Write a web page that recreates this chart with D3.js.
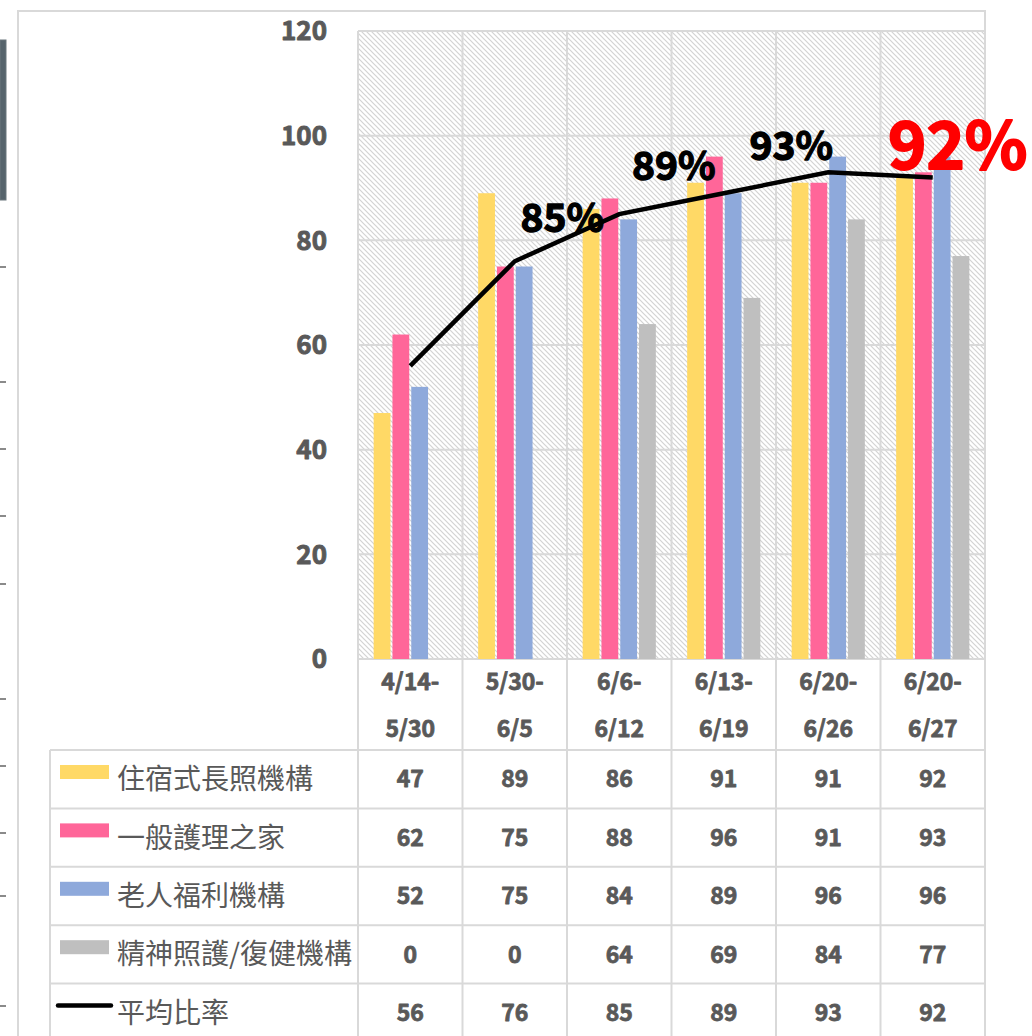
<!DOCTYPE html>
<html>
<head>
<meta charset="utf-8">
<script src="https://cdn.jsdelivr.net/npm/d3@7"></script>
<style>
  html, body { margin: 0; padding: 0; background: #fff; }
  svg { display: block; font-family: "Noto Sans CJK TC", "Noto Sans", sans-serif; }
</style>
</head>
<body>
<svg id="chart" width="1032" height="1036"></svg>
<script>
// data
const periods = [['4/14-', '5/30'], ['5/30-', '6/5'], ['6/6-', '6/12'], ['6/13-', '6/19'], ['6/20-', '6/26'], ['6/20-', '6/27']];
const seriesNames = ['住宿式長照機構', '一般護理之家', '老人福利機構', '精神照護/復健機構'];
const residential = [47, 89, 86, 91, 91, 92];
const nursingHome = [62, 75, 88, 96, 91, 93];
const elderlyWelfare = [52, 75, 84, 89, 96, 96];
const mentalCare = [0, 0, 64, 69, 84, 77];
const average = [56, 76, 85, 89, 93, 92];
const averageName = '平均比率';
const yTicks = [0, 20, 40, 60, 80, 100, 120];
const labelled = [2, 3, 4, 5]; // periods with a % annotation

const colours = ['#FFD966', '#FF6699', '#8EA9DB', '#BFBFBF'];
const grid = '#d9d9d9';
const textGrey = '#595959';

const svg = d3.select('#chart');
const W = 1032, H = 1036;
const plot = { left: 358, right: 985, top: 31, bottom: 659 };
const catRowBottom = 750;
const rowH = 58.4;
const tableLeft = 50;

// bold text, thickened a little with a same-colour stroke
const heavyText = (sel, colour, sw) => sel
  .attr('font-weight', 700)
  .attr('fill', colour)
  .attr('stroke', colour)
  .attr('stroke-width', sw)
  .attr('stroke-linejoin', 'round');

const catKeys = periods.map((p, i) => i);
const x0 = d3.scaleBand().domain(catKeys).range([plot.left, plot.right]);
const x1 = d3.scaleBand().domain(d3.range(seriesNames.length))
  .range([0, x0.bandwidth()]).paddingOuter(0.78);
const y = d3.scaleLinear().domain([0, 120]).range([plot.bottom, plot.top]);

// hatch pattern for plot background
const defs = svg.append('defs');
const pat = defs.append('pattern')
  .attr('id', 'hatch').attr('patternUnits', 'userSpaceOnUse')
  .attr('width', 5).attr('height', 5);
pat.append('rect').attr('width', 5).attr('height', 5).attr('fill', '#fff');
pat.append('path').attr('d', 'M-1,-1 L6,6 M-1,4 L1,6 M4,-1 L6,1')
  .attr('stroke', '#d3d3d3').attr('stroke-width', 1.2);

// stray bits of the neighbouring slide on the left edge
svg.append('rect').attr('x', 0).attr('y', 40).attr('width', 6).attr('height', 160)
  .attr('fill', '#56646c').attr('stroke', '#6b767d').attr('stroke-width', 1);
[267, 382, 449, 516, 584, 699, 766, 833, 896, 1006].forEach(ty => {
  svg.append('rect').attr('x', 0).attr('y', ty - 1).attr('width', 6).attr('height', 2).attr('fill', '#8a8a8a');
});

// outer frame
svg.append('path')
  .attr('d', `M18,${H + 2} L18,11 L${plot.right},11 L${plot.right},${H + 2}`)
  .attr('fill', 'none').attr('stroke', grid).attr('stroke-width', 2);

// plot background
svg.append('rect')
  .attr('x', plot.left).attr('y', plot.top)
  .attr('width', plot.right - plot.left).attr('height', plot.bottom - plot.top)
  .attr('fill', 'url(#hatch)');

// horizontal gridlines
svg.append('g').selectAll('line').data(yTicks).join('line')
  .attr('x1', plot.left).attr('x2', plot.right)
  .attr('y1', d => y(d)).attr('y2', d => y(d))
  .attr('stroke', grid).attr('stroke-width', 2);

// vertical lines: through plot and table
const colEdges = catKeys.map(k => x0(k)).concat([plot.right]);
svg.append('g').selectAll('line').data(colEdges).join('line')
  .attr('x1', d => d).attr('x2', d => d)
  .attr('y1', plot.top).attr('y2', H + 2)
  .attr('stroke', grid).attr('stroke-width', 2);

// y axis labels
svg.append('g').selectAll('text').data(yTicks).join('text')
  .attr('x', 327).attr('y', d => y(d))
  .attr('dy', '0.36em')
  .attr('text-anchor', 'end')
  .attr('font-size', 26)
  .call(heavyText, textGrey, 0.9)
  .text(d => d);

// bars
const seriesValues = [residential, nursingHome, elderlyWelfare, mentalCare];
const barG = svg.append('g');
seriesValues.forEach((vals, s) => {
  barG.selectAll(null).data(vals).join('rect')
    .attr('x', (d, i) => x0(i) + x1(s) + 1)
    .attr('width', x1.bandwidth() - 2)
    .attr('y', d => y(d))
    .attr('height', d => y(0) - y(d))
    .attr('fill', colours[s]);
});

// average line
const line = d3.line()
  .x((d, i) => x0(i) + x0.bandwidth() / 2)
  .y(d => y(d));
svg.append('path').datum(average)
  .attr('d', line)
  .attr('fill', 'none').attr('stroke', '#000').attr('stroke-width', 4.5);

// percentage annotations (offsets relative to the line point)
const labelOffsets = { 2: [-57, 18], 3: [-50, -13], 4: [-37, -12], 5: [25, -9] };
svg.append('g').selectAll('text').data(labelled).join('text')
  .attr('x', i => x0(i) + x0.bandwidth() / 2 + labelOffsets[i][0])
  .attr('y', i => y(average[i]) + labelOffsets[i][1])
  .attr('text-anchor', 'middle')
  .attr('font-size', i => i === 5 ? 65 : 39)
  .each(function (i) {
    d3.select(this).call(heavyText, i === 5 ? '#ff0000' : '#000', i === 5 ? 2 : 1.3);
  })
  .text(i => average[i] + '%');

// category labels (two lines)
const catG = svg.append('g').selectAll('g').data(periods).join('g');
catG.append('text')
  .attr('x', (d, i) => x0(i) + x0.bandwidth() / 2).attr('y', 690)
  .attr('text-anchor', 'middle').attr('font-size', 23)
  .call(heavyText, textGrey, 0.8)
  .text(d => d[0]);
catG.append('text')
  .attr('x', (d, i) => x0(i) + x0.bandwidth() / 2).attr('y', 737)
  .attr('text-anchor', 'middle').attr('font-size', 23)
  .call(heavyText, textGrey, 0.8)
  .text(d => d[1]);

// data table
const rows = seriesNames.map((n, s) => ({ name: n, values: seriesValues[s], colour: colours[s], kind: 'bar' }))
  .concat([{ name: averageName, values: average, colour: '#000', kind: 'line' }]);
const rowTop = i => catRowBottom + i * rowH;

// row lines
svg.append('g').selectAll('line').data(d3.range(rows.length)).join('line')
  .attr('x1', tableLeft).attr('x2', plot.right)
  .attr('y1', i => rowTop(i)).attr('y2', i => rowTop(i))
  .attr('stroke', grid).attr('stroke-width', 2);
svg.append('line')
  .attr('x1', tableLeft).attr('x2', tableLeft)
  .attr('y1', catRowBottom).attr('y2', H + 2)
  .attr('stroke', grid).attr('stroke-width', 2);

const rowG = svg.append('g').selectAll('g').data(rows).join('g')
  .attr('transform', (d, i) => `translate(0,${rowTop(i)})`);

rowG.filter(d => d.kind === 'bar').append('rect')
  .attr('x', 60).attr('y', 15).attr('width', 49).attr('height', 14)
  .attr('fill', d => d.colour);
rowG.filter(d => d.kind === 'line').append('line')
  .attr('x1', 58).attr('x2', 111).attr('y1', 22).attr('y2', 22)
  .attr('stroke', '#000').attr('stroke-width', 4.5).attr('stroke-linecap', 'round');

rowG.append('text')
  .attr('x', 117).attr('y', rowH / 2)
  .attr('dy', '0.36em')
  .attr('font-size', 28).attr('fill', textGrey)
  .text(d => d.name);

rowG.selectAll('text.val').data(d => d.values).join('text')
  .attr('class', 'val')
  .attr('x', (d, i) => x0(i) + x0.bandwidth() / 2)
  .attr('y', rowH / 2)
  .attr('dy', '0.36em')
  .attr('text-anchor', 'middle')
  .attr('font-size', 23)
  .call(heavyText, textGrey, 0.8)
  .text(d => d);
</script>
</body>
</html>
